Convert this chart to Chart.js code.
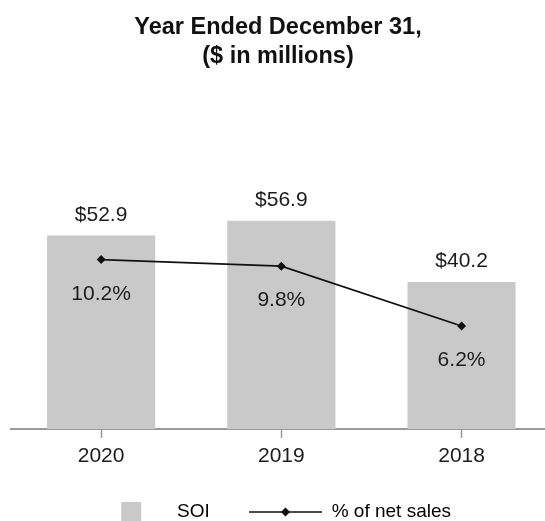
<!DOCTYPE html>
<html>
<head>
<meta charset="utf-8">
<title>SOI and % of net sales</title>
<script src="https://cdn.jsdelivr.net/npm/chart.js@4/dist/chart.umd.min.js"></script>
<style>
  html, body { margin: 0; padding: 0; background: #ffffff; }
  #wrap { width: 545px; height: 521px; }
</style>
</head>
<body>
<div id="wrap"><canvas id="chart" width="545" height="521"></canvas></div>
<script>
// Values per fiscal year
const years = ['2020', '2019', '2018'];
const soi = [52.9, 56.9, 40.2];            // $ in millions
const pctNetSales = [10.2, 9.8, 6.2];      // % of net sales
const titleLines = ['Year Ended December 31,', '($ in millions)'];
const seriesNames = ['SOI', '% of net sales'];

const FONT = "'Liberation Sans', Arial, Helvetica, sans-serif";
const BAR_COLOR = '#c9c9c9';
const LINE_COLOR = '#111111';
const AXIS_COLOR = '#9a9a9a';
const TEXT_COLOR = '#1c1c1c';

// Year slots on a numeric x axis (0, 1, 2 ...)
const soiPoints = years.map((_, i) => ({ x: i, y: soi[i] }));
const pctPoints = years.map((_, i) => ({ x: i, y: pctNetSales[i] }));

// Legend symbols drawn onto small canvases
function makeSquareSymbol() {
  const c = document.createElement('canvas');
  c.width = 42; c.height = 20;
  const g = c.getContext('2d');
  g.fillStyle = BAR_COLOR;
  g.fillRect(21, 0, 20, 20);
  return c;
}
function makeLineSymbol() {
  const c = document.createElement('canvas');
  c.width = 94; c.height = 12;
  const g = c.getContext('2d');
  g.strokeStyle = LINE_COLOR;
  g.lineWidth = 1.6;
  g.beginPath();
  g.moveTo(20, 6); g.lineTo(93, 6);
  g.stroke();
  g.fillStyle = LINE_COLOR;
  g.beginPath();
  g.moveTo(56.5, 1.5); g.lineTo(61, 6); g.lineTo(56.5, 10.5); g.lineTo(52, 6);
  g.closePath();
  g.fill();
  return c;
}
const squareSymbol = makeSquareSymbol();
const lineSymbol = makeLineSymbol();

// Value labels: "$x.x" above each bar, "x.x%" below each line point
const valueLabels = {
  id: 'valueLabels',
  afterDatasetsDraw(chart) {
    const ctx = chart.ctx;
    ctx.save();
    ctx.font = '21px ' + FONT;
    ctx.fillStyle = TEXT_COLOR;
    ctx.textAlign = 'center';
    ctx.textBaseline = 'middle';
    chart.data.datasets.forEach((ds, i) => {
      const meta = chart.getDatasetMeta(i);
      meta.data.forEach((el, j) => {
        if (ds.type === 'bar') {
          ctx.fillText('$' + soi[j].toFixed(1), el.x, el.y - 20.5);
        } else {
          ctx.fillText(pctNetSales[j].toFixed(1) + '%', el.x, el.y + 34.5);
        }
      });
    });
    ctx.restore();
  }
};

new Chart(document.getElementById('chart'), {
  data: {
    datasets: [
      {
        type: 'line',
        label: seriesNames[1],
        data: pctPoints,
        yAxisID: 'yPct',
        borderColor: LINE_COLOR,
        backgroundColor: LINE_COLOR,
        borderWidth: 1.8,
        pointStyle: 'rectRot',
        pointRadius: 4.5,
        pointBorderWidth: 0,
        pointBackgroundColor: LINE_COLOR,
        tension: 0,
        order: 0
      },
      {
        type: 'bar',
        label: seriesNames[0],
        data: soiPoints,
        yAxisID: 'y',
        backgroundColor: BAR_COLOR,
        borderWidth: 0,
        barPercentage: 0.6,
        categoryPercentage: 1.0,
        order: 1
      }
    ]
  },
  options: {
    responsive: false,
    animation: false,
    devicePixelRatio: 1,
    layout: { autoPadding: false, padding: { left: -19, right: 0, top: 0, bottom: -10.5 } },
    scales: {
      x: {
        type: 'linear',
        min: -0.5,
        max: 2.463,
        offset: false,
        grid: {
          display: true,
          offset: false,
          drawOnChartArea: false,
          drawTicks: true,
          tickLength: 9,
          tickWidth: 1.5,
          tickColor: AXIS_COLOR
        },
        border: { display: true, color: AXIS_COLOR, width: 2 },
        ticks: {
          color: TEXT_COLOR,
          font: { family: FONT, size: 21 },
          padding: 6,
          maxRotation: 0,
          callback: (value) => years[value]
        },
        afterBuildTicks(scale) {
          scale.ticks = years.map((_, i) => ({ value: i }));
        },
        afterFit(scale) { scale.height = 53.5; }
      },
      // value axis for SOI: kept in the layout as an empty left margin
      y: {
        display: true,
        min: 0,
        max: 87.2,
        grid: { display: false },
        border: { display: false },
        ticks: { display: false },
        afterFit(scale) { scale.width = 30; }
      },
      yPct: { display: false, position: 'right', min: 0, max: 19.2 }
    },
    plugins: {
      title: {
        display: true,
        fullSize: false,
        text: titleLines,
        color: '#111111',
        font: { family: FONT, size: 23.5, weight: 'bold', lineHeight: 1.234 },
        padding: { top: 13, bottom: 39 }
      },
      legend: {
        display: true,
        position: 'bottom',
        align: 'center',
        labels: {
          usePointStyle: true,
          pointStyleWidth: 92.5,
          padding: 20,
          color: TEXT_COLOR,
          font: { family: FONT, size: 19 },
          generateLabels() {
            return [
              { text: seriesNames[0], pointStyle: squareSymbol, fillStyle: BAR_COLOR, strokeStyle: BAR_COLOR, lineWidth: 0, hidden: false, datasetIndex: 1 },
              { text: seriesNames[1], pointStyle: lineSymbol, fillStyle: LINE_COLOR, strokeStyle: LINE_COLOR, lineWidth: 0, hidden: false, datasetIndex: 0 }
            ];
          }
        }
      },
      tooltip: { enabled: false }
    }
  },
  plugins: [valueLabels]
});
</script>
</body>
</html>
